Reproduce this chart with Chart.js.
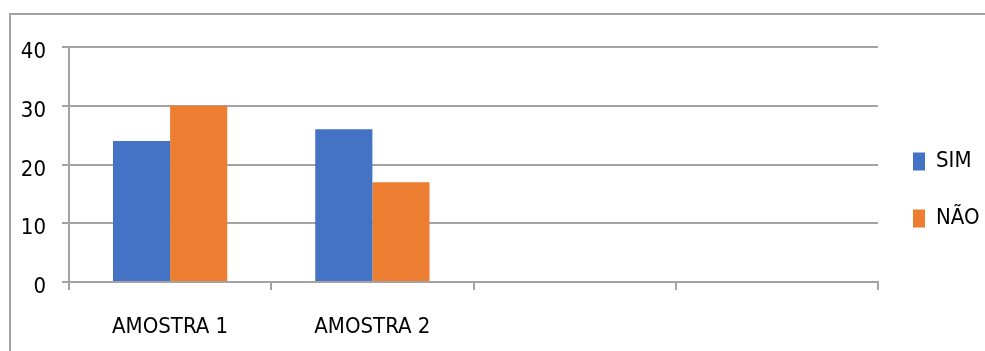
<!DOCTYPE html>
<html>
<head>
<meta charset="utf-8">
<script src="https://cdn.jsdelivr.net/npm/chart.js@4.4.0/dist/chart.umd.min.js"></script>
<style>
  html, body { margin: 0; padding: 0; background: #fff; }
  #wrap { position: relative; width: 985px; height: 351px; overflow: hidden; }
  #frame { position: absolute; left: 9px; top: 13px; width: 1000px; height: 400px;
           border-top: 2px solid #a3a3a3; border-left: 2px solid #a3a3a3; }
  canvas { position: absolute; left: 0; top: 0; }
</style>
</head>
<body>
<div id="wrap">
  <div id="frame"></div>
  <canvas id="chart" width="985" height="351"></canvas>
</div>
<script>
// chart values
const categories = ["AMOSTRA 1", "AMOSTRA 2", "", ""];
const simValues = [24, 26, null, null];
const naoValues = [30, 17, null, null];
const yTicks = [0, 10, 20, 30, 40];

const FONT = "'DejaVu Sans Condensed', 'Liberation Sans Narrow', 'Noto Sans', sans-serif";
const gridGray = "#a3a3a3";

const ctx = document.getElementById("chart");
new Chart(ctx, {
  type: "bar",
  data: {
    labels: categories,
    datasets: [
      { label: "SIM", data: simValues, backgroundColor: "#4472C4" },
      { label: "NÃO", data: naoValues, backgroundColor: "#ED7D31" },
    ],
  },
  options: {
    responsive: false,
    animation: false,
    layout: { padding: { top: 47, left: 0, right: 0, bottom: 18 } },
    datasets: {
      bar: { categoryPercentage: 0.565, barPercentage: 1.0 },
    },
    plugins: {
      tooltip: { enabled: false },
      legend: {
        position: "right",
        maxWidth: 107,
        labels: {
          color: "#000",
          font: { family: FONT, size: 22 },
          boxWidth: 12,
          boxHeight: 18,
          padding: 35,
        },
      },
    },
    scales: {
      x: {
        grid: {
          display: true,
          drawOnChartArea: false,
          drawTicks: true,
          tickLength: 8,
          color: gridGray,
          lineWidth: 2,
        },
        border: { display: true, color: gridGray, width: 2 },
        ticks: {
          color: "#000",
          font: { family: FONT, size: 22 },
          padding: 24,
          maxRotation: 0,
        },
        afterFit: (scale) => { scale.height = 51; },
      },
      y: {
        min: 0,
        max: 40,
        afterBuildTicks: (scale) => { scale.ticks = yTicks.map((v) => ({ value: v })); },
        grid: { color: gridGray, lineWidth: 2, tickLength: 7 },
        border: { display: true, color: gridGray, width: 2 },
        ticks: {
          color: "#000",
          font: { family: FONT, size: 22, lineHeight: 0.5 },
          padding: 16,
          // empty first line nudges the number a little below its gridline, like the original
          callback: (v) => ["", String(v)],
        },
        afterFit: (scale) => { scale.width = 69; },
      },
    },
  },
});
</script>
</body>
</html>
